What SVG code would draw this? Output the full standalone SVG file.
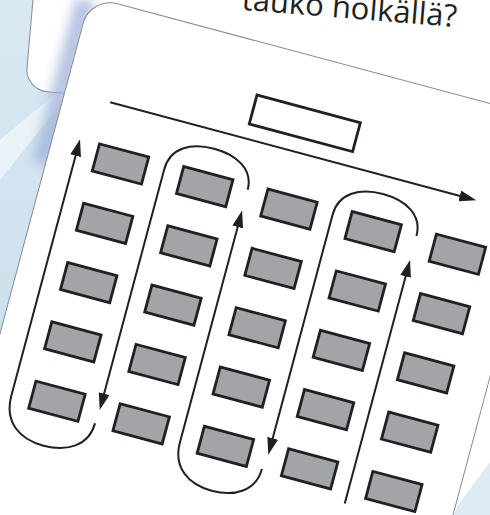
<svg xmlns="http://www.w3.org/2000/svg" width="490" height="515" viewBox="0 0 490 515">
<defs>
<style>
.desk{fill:#a3a4a7;stroke:#231f20;stroke-width:2.8}
.tdesk{fill:#fff;stroke:#231f20;stroke-width:2.8}
.route{fill:none;stroke:#231f20;stroke-width:2}
.lbl{font-family:"Open Sans","Liberation Sans",sans-serif;font-size:31px;fill:#231f20}
</style>
<linearGradient id="bgL" x1="0" y1="0" x2="0" y2="1">
<stop offset="0" stop-color="#d8e9f2"/>
<stop offset="0.5" stop-color="#cfe2ee"/>
<stop offset="1" stop-color="#c4dae9"/>
</linearGradient>
<filter id="blur" x="-1" y="-1" width="3" height="3"><feGaussianBlur stdDeviation="6"/></filter>
<marker id="ah" markerWidth="17" markerHeight="11" refX="9" refY="5.5" orient="auto" markerUnits="userSpaceOnUse"><path d="M0,0 L17,5.5 L0,11 z" fill="#231f20"/></marker>
</defs>
<rect width="490" height="515" fill="#fff"/>
<g id="background">
<rect x="0" y="0" width="140" height="515" fill="url(#bgL)"/>
<polygon points="0,140 60,90 72,90 0,180" fill="#fff" opacity="0.55"/>
<polygon points="490,462 458,505 454,515 490,515" fill="#dcebf4"/>
</g>
<g id="back-card">
<rect transform="translate(25.1,89.8) rotate(5)" x="0" y="-400" width="620" height="400" rx="22" fill="#fff" stroke="#8c8c8c" stroke-width="1"/>
<text class="lbl" transform="translate(456,27) rotate(4.6)" text-anchor="end">tauko holkällä?</text>
</g>
<g id="card" transform="translate(120.5,164) rotate(15)">
<rect x="-86" y="-150" width="20" height="170" fill="#9fb0d8" opacity="0.75" filter="url(#blur)"/>
<rect x="-72.5" y="-154" width="484.5" height="800" rx="28" fill="#fff" stroke="#8a8a8a" stroke-width="1"/>
<g id="teacher-desk"><rect class="tdesk" x="114" y="-102" width="107" height="30"/></g>
<g id="desk-r1-c1"><rect class="desk" x="-25.5" y="-14" width="51" height="28"/></g>
<g id="desk-r2-c1"><rect class="desk" x="-25.5" y="47.4" width="51" height="28"/></g>
<g id="desk-r3-c1"><rect class="desk" x="-25.5" y="108.8" width="51" height="28"/></g>
<g id="desk-r4-c1"><rect class="desk" x="-25.5" y="170.2" width="51" height="28"/></g>
<g id="desk-r5-c1"><rect class="desk" x="-25.5" y="231.6" width="51" height="28"/></g>
<g id="desk-r1-c2"><rect class="desk" x="61.7" y="-14" width="51" height="28"/></g>
<g id="desk-r2-c2"><rect class="desk" x="61.7" y="47.4" width="51" height="28"/></g>
<g id="desk-r3-c2"><rect class="desk" x="61.7" y="108.8" width="51" height="28"/></g>
<g id="desk-r4-c2"><rect class="desk" x="61.7" y="170.2" width="51" height="28"/></g>
<g id="desk-r5-c2"><rect class="desk" x="61.7" y="231.6" width="51" height="28"/></g>
<g id="desk-r1-c3"><rect class="desk" x="148.9" y="-14" width="51" height="28"/></g>
<g id="desk-r2-c3"><rect class="desk" x="148.9" y="47.4" width="51" height="28"/></g>
<g id="desk-r3-c3"><rect class="desk" x="148.9" y="108.8" width="51" height="28"/></g>
<g id="desk-r4-c3"><rect class="desk" x="148.9" y="170.2" width="51" height="28"/></g>
<g id="desk-r5-c3"><rect class="desk" x="148.9" y="231.6" width="51" height="28"/></g>
<g id="desk-r1-c4"><rect class="desk" x="236.1" y="-14" width="51" height="28"/></g>
<g id="desk-r2-c4"><rect class="desk" x="236.1" y="47.4" width="51" height="28"/></g>
<g id="desk-r3-c4"><rect class="desk" x="236.1" y="108.8" width="51" height="28"/></g>
<g id="desk-r4-c4"><rect class="desk" x="236.1" y="170.2" width="51" height="28"/></g>
<g id="desk-r5-c4"><rect class="desk" x="236.1" y="231.6" width="51" height="28"/></g>
<g id="desk-r1-c5"><rect class="desk" x="323.3" y="-14" width="51" height="28"/></g>
<g id="desk-r2-c5"><rect class="desk" x="323.3" y="47.4" width="51" height="28"/></g>
<g id="desk-r3-c5"><rect class="desk" x="323.3" y="108.8" width="51" height="28"/></g>
<g id="desk-r4-c5"><rect class="desk" x="323.3" y="170.2" width="51" height="28"/></g>
<g id="desk-r5-c5"><rect class="desk" x="323.3" y="231.6" width="51" height="28"/></g>
<g id="connectors">
<path class="route" d="M-26,-57 L345,-57" marker-end="url(#ah)"/>
<path class="route" d="M42.5,257 C42.5,281 22,292 -1.5,292 C-27,292 -45.5,279 -45.5,252 L-45.5,-5.4" marker-end="url(#ah)"/>
<path class="route" d="M129.5,-8 C129.5,-29 110,-39 86.5,-39 C63,-39 43.6,-29 43.6,-6 L43.6,235" marker-end="url(#ah)"/>
<path class="route" d="M215.5,258 C215.5,281 196,292 172.5,292 C149,292 129.5,280 129.5,254 L129.5,21.5" marker-end="url(#ah)"/>
<path class="route" d="M304.5,-7 C304.5,-29 285,-39 261.3,-39 C238,-39 218,-29 218,-6 L218,234.5" marker-end="url(#ah)"/>
<path class="route" d="M304.5,270 L304.5,25.8" marker-end="url(#ah)"/>
</g>
</g>
</svg>
